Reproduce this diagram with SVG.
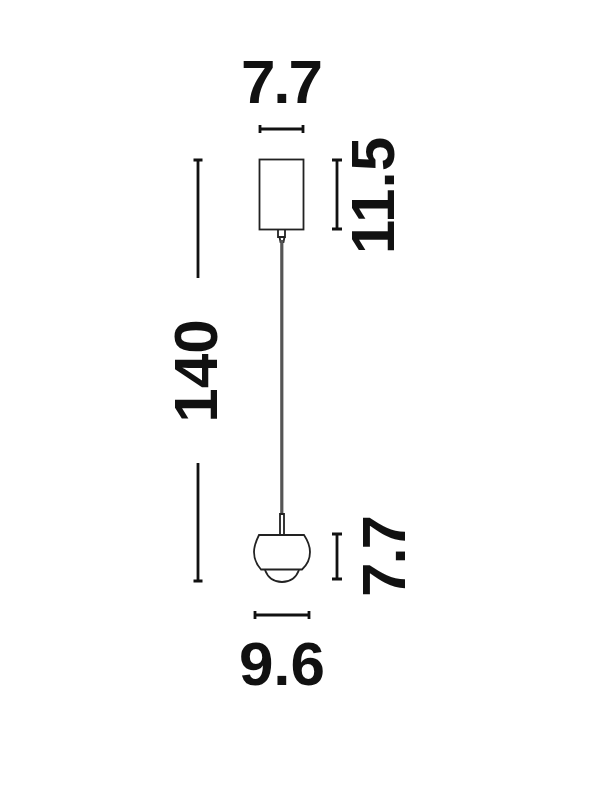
<svg xmlns="http://www.w3.org/2000/svg" width="600" height="791" viewBox="0 0 600 791">
<style>
.t{font-family:"Liberation Sans",Arial,sans-serif;font-weight:700;font-size:62px;fill:#111;text-anchor:middle}
.k{letter-spacing:-2px}
.d{fill:none;stroke:#111;stroke-width:2.800}
.l{fill:none;stroke:#222;stroke-width:1.800}
</style>
<rect width="600" height="791" fill="#fff"/>
<g id="lamp-canopy" class="l">
<rect x="259.500" y="159.500" width="44" height="70"/>
<path d="M278 230v7h7v-7M279.500 237l1 5h3l1-5"/>
</g>
<g id="lamp-cable"><path d="M281.800 240V514" fill="none" stroke="#555" stroke-width="3.200"/></g>
<g id="lamp-head" class="l">
<path d="M280 535V514h4V535"/>
<path d="M259 535H304C308 541 310 547 310 552C310 558 307 565 302 569.500H261C257 565 254 558 254 552C254 547 256 541 259 535Z"/>
<path d="M265 570C268 578 274 582 282 582C290 582 296 578 299 570"/>
</g>
<g id="dimensions" class="d">
<path d="M260 129H303M260 125v8M303 125v8"/>
<path d="M337 160V229M332 160H342M332 229H342"/>
<path d="M198 160V278M193.500 160H202.500"/>
<path d="M198 463V581M193.500 581H202.500"/>
<path d="M337 534V579M332 534H342M332 579H342"/>
<path d="M255 615H309M255 611v8M309 611v8"/>
</g>
<g id="labels">
<text class="t k" x="281" y="103">7.7</text>
<text class="t" x="282" y="685">9.6</text>
<text class="t" transform="translate(394 195.500) rotate(-90)">11.5</text>
<text class="t" transform="translate(217 371) rotate(-90)">140</text>
<text class="t k" transform="translate(405 557) rotate(-90)">7.7</text>
</g>
</svg>
